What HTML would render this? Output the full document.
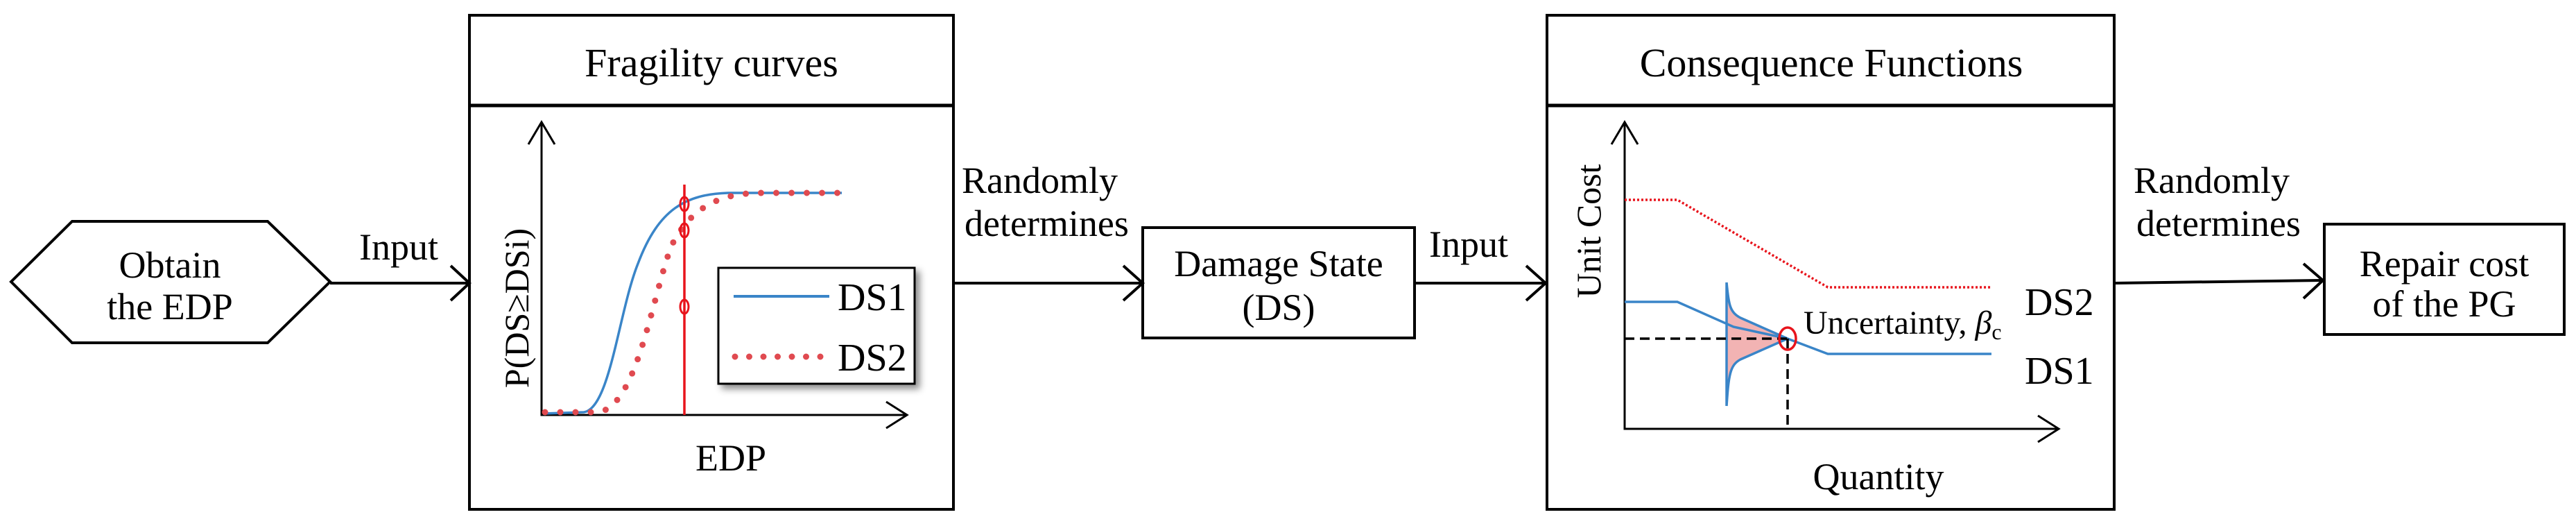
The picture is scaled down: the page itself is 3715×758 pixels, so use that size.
<!DOCTYPE html>
<html><head><meta charset="utf-8"><style>
html,body{margin:0;padding:0;background:#fff;}
svg{display:block;}
svg text{font-family:"Liberation Serif","DejaVu Serif",serif !important;fill:#000;}
</style></head><body>
<svg width="3715" height="758" viewBox="0 0 3715 758" xmlns="http://www.w3.org/2000/svg" font-family="Liberation Serif, DejaVu Serif, serif">
<defs>
<filter id="sh" x="-20%" y="-20%" width="150%" height="150%"><feDropShadow dx="6" dy="6" stdDeviation="5" flood-color="#000" flood-opacity="0.45"/></filter>
</defs>
<g stroke="#000" stroke-width="4" fill="none">
<polygon points="16,406 104,319 386,319 476,406 386,494 104,494" fill="#fff"/>
<line x1="476" y1="408" x2="675" y2="408"/>
<polyline points="650,383 677,408 650,433"/>
<line x1="1375" y1="408" x2="1646" y2="408"/>
<polyline points="1620,383 1648,408 1620,433"/>
<line x1="2040" y1="408" x2="2227" y2="408"/>
<polyline points="2201,383 2229,408 2201,433"/>
<line x1="3049" y1="408" x2="3348" y2="404"/>
<polyline points="3322,380 3350,404 3322,430"/>
<rect x="677" y="22" width="698" height="712"/>
<line x1="677" y1="152" x2="1375" y2="152" stroke-width="5"/>
<rect x="1648" y="328" width="392" height="159"/>
<rect x="2231" y="22" width="818" height="712"/>
<line x1="2231" y1="152" x2="3049" y2="152" stroke-width="5"/>
<rect x="3352" y="323" width="346" height="159"/>
<polyline points="781,176 781,598 1308,598" stroke-width="3"/>
<polyline points="762,208 781,176 800,208" stroke-width="3"/>
<polyline points="1278,579 1308,598 1278,617" stroke-width="3"/>
<polyline points="2343,176 2343,618 2969,618" stroke-width="3"/>
<polyline points="2324,208 2343,176 2362,208" stroke-width="3"/>
<polyline points="2939,599 2969,618 2939,637" stroke-width="3"/>
</g>
<path d="M783 596 L842 594 C880 588 892 450 920 380 C950 300 990 280 1050 278 L1214 278" stroke="#3a85c8" stroke-width="3.5" fill="none"/>
<path d="M786 594 L862 594 C918 588 940 430 968 355 C1000 290 1050 278 1100 278 L1214 278" stroke="#e04a50" stroke-width="9" stroke-linecap="round" stroke-dasharray="0 22" fill="none"/>
<line x1="987" y1="266" x2="987" y2="598" stroke="#e8141c" stroke-width="3.5"/>
<g stroke="#e8141c" stroke-width="3" fill="none">
<ellipse cx="987" cy="294" rx="6" ry="10"/>
<ellipse cx="987" cy="332" rx="6" ry="10"/>
<ellipse cx="987" cy="442" rx="6" ry="10"/>
</g>
<rect x="1036" y="386" width="283" height="167" fill="#fff" stroke="#000" stroke-width="3" filter="url(#sh)"/>
<line x1="1058" y1="427" x2="1196" y2="427" stroke="#3a85c8" stroke-width="4"/>
<line x1="1060" y1="514" x2="1184" y2="514" stroke="#e04a50" stroke-width="9" stroke-linecap="round" stroke-dasharray="0 20.5"/>
<text x="1208" y="447" font-size="56">DS1</text>
<text x="1208" y="534" font-size="56">DS2</text>
<text x="0" y="0" font-size="50" text-anchor="middle" transform="translate(762,444) rotate(-90)">P(DS≥DSi)</text>
<text x="1054" y="678" font-size="54" text-anchor="middle">EDP</text>
<path d="M2490 407 C2493 440 2495 450 2510 458 L2578 488 L2510 518 C2495 526 2493 540 2490 585 Z" fill="#f2b3b3"/>
<polyline points="2343,288 2419,288 2636,414 2872,414" stroke="#e8141c" stroke-width="3.5" stroke-dasharray="3 3" fill="none"/>
<polyline points="2343,435 2419,435 2500,471 2578,488 2636,510 2872,510" stroke="#3a85c8" stroke-width="3.5" fill="none"/>
<path d="M2490 407 C2493 440 2495 450 2510 458 L2578 488 M2490 407 L2490 585 M2578 488 L2510 518 C2495 526 2493 540 2490 585" stroke="#3a85c8" stroke-width="3.5" fill="none"/>
<line x1="2343" y1="488" x2="2578" y2="488" stroke="#000" stroke-width="3.5" stroke-dasharray="14 8"/>
<line x1="2578" y1="488" x2="2578" y2="618" stroke="#000" stroke-width="3.5" stroke-dasharray="14 8"/>
<ellipse cx="2578" cy="488" rx="12" ry="16" stroke="#e8141c" stroke-width="3.5" fill="none"/>
<text x="2601" y="481" font-size="48">Uncertainty, <tspan font-style="italic">β</tspan><tspan font-size="32" dy="8">c</tspan></text>
<text x="2920" y="454" font-size="56">DS2</text>
<text x="2920" y="553" font-size="56">DS1</text>
<text x="0" y="0" font-size="50" text-anchor="middle" transform="translate(2308,333) rotate(-90)">Unit Cost</text>
<text x="2709" y="705" font-size="54" text-anchor="middle">Quantity</text>
<text x="245" y="400" font-size="54" text-anchor="middle">Obtain</text>
<text x="245" y="460" font-size="54" text-anchor="middle">the EDP</text>
<text x="518" y="374" font-size="54">Input</text>
<text x="1026" y="110" font-size="58" text-anchor="middle">Fragility curves</text>
<text x="1387" y="278" font-size="54">Randomly</text>
<text x="1391" y="340" font-size="54">determines</text>
<text x="1844" y="398" font-size="54" text-anchor="middle">Damage State</text>
<text x="1844" y="461" font-size="54" text-anchor="middle">(DS)</text>
<text x="2061" y="370" font-size="54">Input</text>
<text x="2641" y="110" font-size="58" text-anchor="middle">Consequence Functions</text>
<text x="3077" y="278" font-size="54">Randomly</text>
<text x="3081" y="340" font-size="54">determines</text>
<text x="3525" y="398" font-size="54" text-anchor="middle">Repair cost</text>
<text x="3525" y="456" font-size="54" text-anchor="middle">of the PG</text>
</svg>
</body></html>
